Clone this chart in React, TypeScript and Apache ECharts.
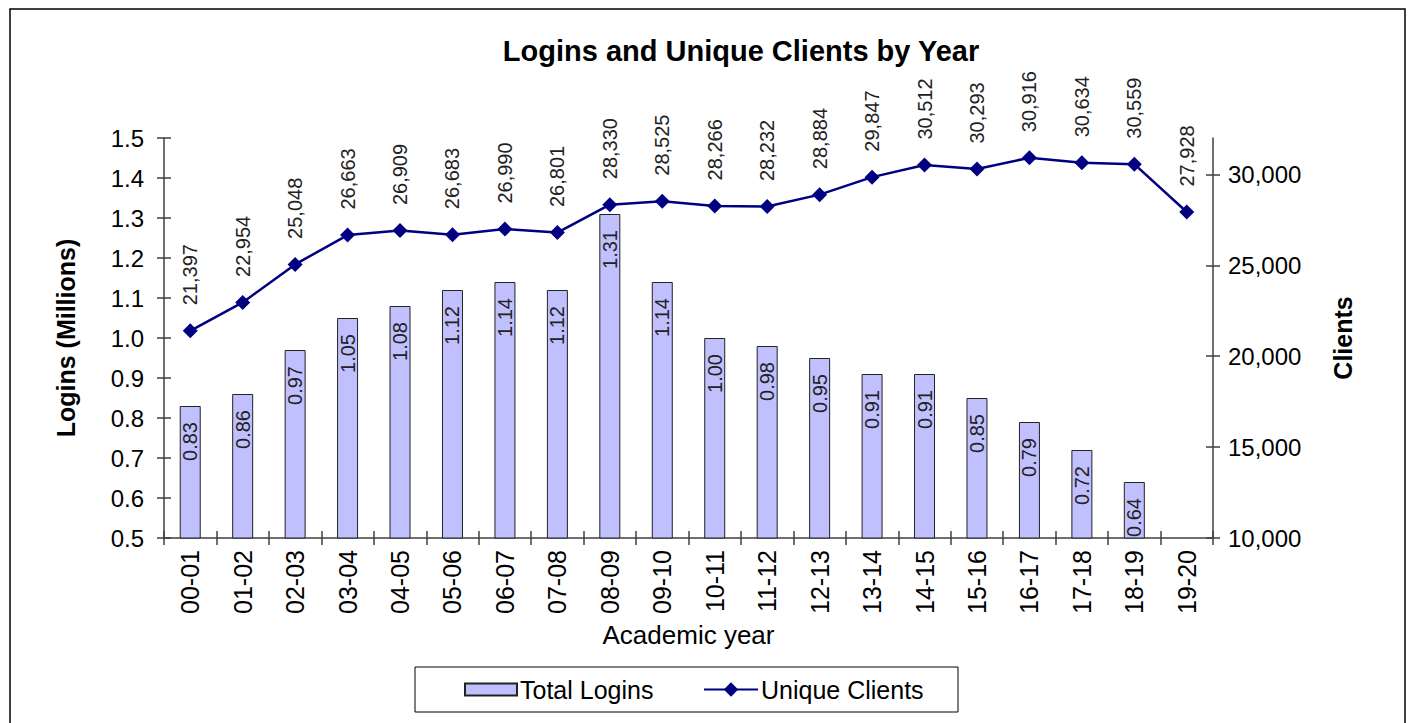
import React, { useEffect, useRef } from 'react';
import * as echarts from 'echarts';

const categories = ['00-01', '01-02', '02-03', '03-04', '04-05', '05-06', '06-07', '07-08', '08-09', '09-10', '10-11', '11-12', '12-13', '13-14', '14-15', '15-16', '16-17', '17-18', '18-19', '19-20'];
const totalLogins = [0.83, 0.86, 0.97, 1.05, 1.08, 1.12, 1.14, 1.12, 1.31, 1.14, 1.0, 0.98, 0.95, 0.91, 0.91, 0.85, 0.79, 0.72, 0.64, null];
const uniqueClients = [21397, 22954, 25048, 26663, 26909, 26683, 26990, 26801, 28330, 28525, 28266, 28232, 28884, 29847, 30512, 30293, 30916, 30634, 30559, 27928];
const clientTicks = [10000, 15000, 20000, 25000, 30000];

const FONT = '"Liberation Sans", Arial, sans-serif';
const AXIS = '#404040';

export default function App() {
  const ref = useRef<HTMLDivElement>(null);
  useEffect(() => {
    if (!ref.current) return;
    const chart = echarts.init(ref.current, null, { renderer: 'svg' });
    const fmtInt = (v: number) => Math.round(v).toLocaleString('en-US');
    chart.setOption({
      animation: false,
      textStyle: { fontFamily: FONT },
      title: {
        text: 'Logins and Unique Clients by Year',
        left: 736,
        textAlign: 'center',
        top: 31,
        textStyle: { fontFamily: FONT, fontSize: 29, fontWeight: 'bold', color: '#000' },
      },
      graphic: [
        {
          type: 'rect',
          shape: { x: 10, y: 9, width: 1395, height: 730 },
          style: { fill: 'none', stroke: '#000', lineWidth: 1.5 },
          silent: true,
        },
        {
          type: 'rect',
          shape: { x: 415, y: 667, width: 543, height: 45 },
          style: { fill: 'none', stroke: '#000', lineWidth: 1 },
          silent: true,
        },
      ],
      legend: [
        {
          left: 464,
          top: 677,
          padding: 0,
          itemGap: 0,
          itemWidth: 52,
          itemHeight: 12,
          textStyle: { fontFamily: FONT, fontSize: 25, color: '#000', padding: [0, 0, 0, -2] },
          data: [{ name: 'Total Logins', icon: 'rect' }],
        },
        {
          left: 703,
          top: 677,
          padding: 0,
          itemGap: 0,
          itemWidth: 54,
          itemHeight: 18,
          textStyle: { fontFamily: FONT, fontSize: 25, color: '#000', padding: [0, 0, 0, -2] },
          data: [{ name: 'Unique Clients' }],
        },
      ],
      grid: { left: 164, right: 201, top: 138, bottom: 185 },
      xAxis: [
        {
          type: 'category',
          data: categories,
          name: 'Academic year',
          nameLocation: 'middle',
          nameGap: 82,
          nameTextStyle: { fontFamily: FONT, fontSize: 26, color: '#000' },
          axisLine: { lineStyle: { color: AXIS, width: 1.5 } },
          axisTick: { show: true, length: 7, lineStyle: { color: AXIS, width: 1.5 } },
          axisLabel: { rotate: 90, fontSize: 25, color: '#000', margin: 12, fontFamily: FONT },
        },
        {
          type: 'category',
          data: categories,
          position: 'bottom',
          axisLine: { show: false },
          axisTick: { show: true, inside: true, length: 7, lineStyle: { color: AXIS, width: 1.5 } },
          axisLabel: { show: false },
        },
      ],
      yAxis: [
        {
          type: 'value',
          min: 0.5,
          max: 1.5,
          interval: 0.1,
          position: 'left',
          name: 'Logins (Millions)',
          nameLocation: 'middle',
          nameRotate: 90,
          nameGap: 86,
          nameTextStyle: { fontFamily: FONT, fontSize: 25, fontWeight: 'bold', color: '#000' },
          axisLine: { show: true, lineStyle: { color: AXIS, width: 1.5 } },
          axisTick: { show: true, length: 7, lineStyle: { color: AXIS, width: 1.5 } },
          axisLabel: { fontSize: 24, color: '#000', margin: 20, fontFamily: FONT, formatter: (v: number) => v.toFixed(1) },
          splitLine: { show: false },
        },
        {
          type: 'value',
          min: 10000,
          max: 32000,
          interval: 5000,
          position: 'right',
          name: 'Clients',
          nameLocation: 'middle',
          nameRotate: 90,
          nameGap: 117,
          nameTextStyle: { fontFamily: FONT, fontSize: 25, fontWeight: 'bold', color: '#000' },
          axisLine: { show: true, lineStyle: { color: AXIS, width: 1.5 } },
          axisTick: { show: true, length: 7, customValues: clientTicks, lineStyle: { color: AXIS, width: 1.5 } },
          axisLabel: { fontSize: 24, color: '#000', margin: 15, fontFamily: FONT, customValues: clientTicks, formatter: fmtInt },
          splitLine: { show: false },
        },
        {
          type: 'value',
          min: 0.5,
          max: 1.5,
          interval: 0.1,
          position: 'left',
          axisLine: { show: false },
          axisTick: { show: true, inside: true, length: 7, lineStyle: { color: AXIS, width: 1.5 } },
          axisLabel: { show: false },
          splitLine: { show: false },
        },
        {
          type: 'value',
          min: 10000,
          max: 32000,
          interval: 5000,
          position: 'right',
          axisLine: { show: false },
          axisTick: { show: true, inside: true, length: 7, customValues: clientTicks, lineStyle: { color: AXIS, width: 1.5 } },
          axisLabel: { show: false, customValues: clientTicks },
          splitLine: { show: false },
        },
      ],
      series: [
        {
          name: 'Total Logins',
          type: 'bar',
          xAxisIndex: 0,
          yAxisIndex: 0,
          data: totalLogins,
          barWidth: 21,
          itemStyle: { color: '#c0c0ff', borderColor: '#222', borderWidth: 1 },
          label: {
            show: true,
            position: 'insideTop',
            distance: 16,
            rotate: 90,
            align: 'right',
            verticalAlign: 'middle',
            fontSize: 20,
            color: '#222',
            fontFamily: FONT,
            formatter: (p: any) => (p.value == null ? '' : Number(p.value).toFixed(2)),
          },
        },
        {
          name: 'Unique Clients',
          type: 'line',
          xAxisIndex: 0,
          yAxisIndex: 1,
          data: uniqueClients,
          symbol: 'diamond',
          symbolSize: 15,
          lineStyle: { color: '#000080', width: 2.5 },
          itemStyle: { color: '#000080' },
          label: {
            show: true,
            position: 'top',
            distance: 18,
            rotate: 90,
            align: 'left',
            verticalAlign: 'middle',
            fontSize: 20,
            color: '#222',
            fontFamily: FONT,
            formatter: (p: any) => fmtInt(p.value),
          },
        },
      ],
    });
    return () => chart.dispose();
  }, []);
  return <div ref={ref} style={{ position: 'fixed', left: 0, top: 0, width: 1414, height: 723, background: '#fff' }} />;
}
